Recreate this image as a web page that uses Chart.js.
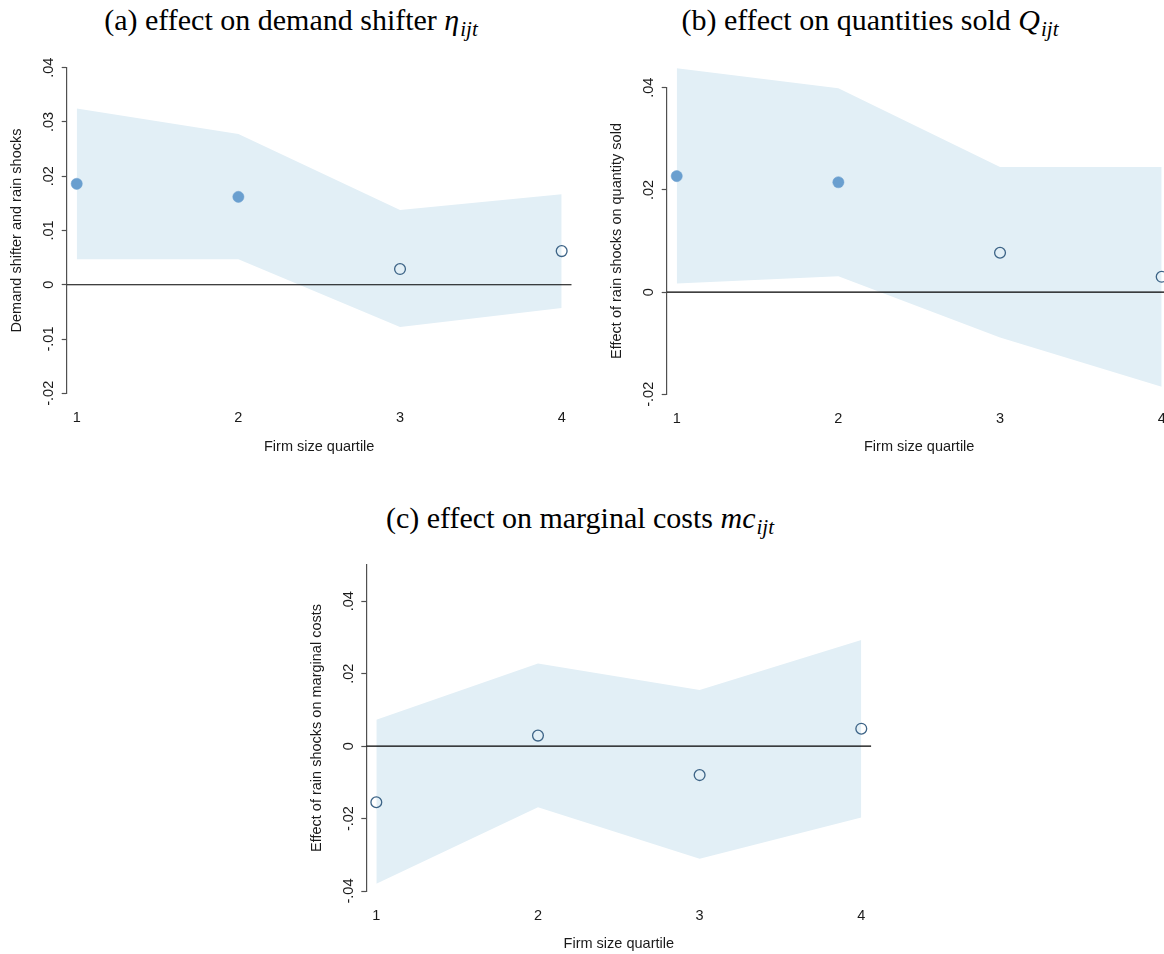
<!DOCTYPE html>
<html><head><meta charset="utf-8">
<script src="https://cdn.jsdelivr.net/npm/chart.js@4.4.0/dist/chart.umd.min.js"></script>
<style>
html,body{margin:0;padding:0;width:1164px;height:954px;overflow:hidden;background:#fff;}
canvas{position:absolute;}
.t{position:absolute;font-family:"Liberation Serif","Times New Roman",serif;font-size:30px;color:#000;white-space:nowrap;transform:translateX(-50%);line-height:1;}
.t i{font-style:italic;}
.t sub{font-size:70%;font-style:italic;vertical-align:-0.28em;line-height:0;margin-left:1px;}
</style></head><body>
<div class="t" style="left:291px;top:5px">(a) effect on demand shifter <i>η</i><sub>ijt</sub></div>
<div class="t" style="left:870px;top:5px">(b) effect on quantities sold <i>Q</i><sub>ijt</sub></div>
<div class="t" style="left:580px;top:503px">(c) effect on marginal costs <i>mc</i><sub>ijt</sub></div>
<canvas id="ca" width="580" height="460" style="left:0px;top:0px"></canvas>
<canvas id="cb" width="600" height="460" style="left:580px;top:0px"></canvas>
<canvas id="cc" width="580" height="474" style="left:300px;top:480px"></canvas>
<script>
// ---- data ----
const quartiles = [1, 2, 3, 4];
const xTickLabels = ['1', '2', '3', '4'];
const xTitle = 'Firm size quartile';

// (a) demand shifter
const demandCoef = [0.0186, 0.0162, 0.0029, 0.0062];
const demandLo   = [0.0047, 0.0047, -0.0078, -0.0043];
const demandHi   = [0.0325, 0.0278, 0.0138, 0.0167];
const demandTickVals = [-0.02, -0.01, 0, 0.01, 0.02, 0.03, 0.04];
const demandTickLabels = ['-.02', '-.01', '0', '.01', '.02', '.03', '.04'];
const demandYTitle = 'Demand shifter and rain shocks';

// (b) quantities sold
const qtyCoef = [0.0227, 0.0215, 0.0077, 0.0030];
const qtyLo   = [0.0017, 0.0031, -0.0089, -0.0185];
const qtyHi   = [0.0438, 0.0399, 0.0245, 0.0245];
const qtyTickVals = [-0.02, 0, 0.02, 0.04];
const qtyTickLabels = ['-.02', '0', '.02', '.04'];
const qtyYTitle = 'Effect of rain shocks on quantity sold';

// (c) marginal costs
const mcCoef = [-0.0155, 0.0029, -0.0080, 0.0048];
const mcLo   = [-0.0380, -0.0169, -0.0311, -0.0197];
const mcHi   = [0.0073, 0.0228, 0.0155, 0.0293];
const mcTickVals = [-0.04, -0.02, 0, 0.02, 0.04];
const mcTickLabels = ['-.04', '-.02', '0', '.02', '.04'];
const mcYTitle = 'Effect of rain shocks on marginal costs';

// axis ranges
const xRange = [0.938, 4.062];
const yRangeA = [-0.02, 0.04];
const yRangeB = [-0.02, 0.04];
const yRangeC = [-0.04, 0.05];

// ---- style ----
const BAND = 'rgb(226,239,246)';
const FILLED = '#6a9fcf';
const HOLLOW = '#3c6386';
const AXIS = '#505050';
const TXT = '#1a1a1a';
const SANS = '"Liberation Sans", Arial, Helvetica, sans-serif';

const unclipPlugin = {
  id: 'unclip',
  beforeDatasetsDraw(chart) {
    chart.$savedArea = chart.chartArea;
    chart.chartArea = {left: 0, top: 0, right: chart.width, bottom: chart.height, width: chart.width, height: chart.height};
  },
  afterDatasetsDraw(chart) {
    chart.chartArea = chart.$savedArea;
  }
};

function makePanel(id, coef, lo, hi, tickVals, tickLabels, yTitle, yRange, geo) {
  const sig = coef.map((c, i) => lo[i] > 0 || hi[i] < 0);
  const pts = (arr) => quartiles.map((q, i) => ({x: q, y: arr[i]}));
  new Chart(document.getElementById(id), {
    type: 'line',
    data: {
      datasets: [
        { // point estimates
          data: pts(coef), showLine: false,
          pointRadius: (c) => sig[c.dataIndex] ? 5.6 : 5.4,
          pointBackgroundColor: (c) => sig[c.dataIndex] ? FILLED : 'rgba(0,0,0,0)',
          pointBorderColor: (c) => sig[c.dataIndex] ? FILLED : HOLLOW,
          pointBorderWidth: (c) => sig[c.dataIndex] ? 0.5 : 1.3,
          clip: false
        },
        { // zero reference line
          data: [{x: xRange[0], y: 0}, {x: xRange[1], y: 0}],
          borderColor: '#000', borderWidth: 1.2, pointRadius: 0, fill: false
        },
        { // CI upper
          data: pts(hi), borderWidth: 0, pointRadius: 0, borderColor: 'rgba(0,0,0,0)',
          backgroundColor: BAND, fill: '+1', tension: 0, clip: false
        },
        { // CI lower
          data: pts(lo), borderWidth: 0, pointRadius: 0, borderColor: 'rgba(0,0,0,0)',
          backgroundColor: BAND, fill: false, tension: 0, clip: false
        }
      ]
    },
    options: {
      responsive: false, animation: false, devicePixelRatio: 1,
      events: [],
      layout: {padding: geo.pad, autoPadding: false},
      plugins: {legend: {display: false}, tooltip: {enabled: false}},
      scales: {
        x: {
          type: 'linear', min: xRange[0], max: xRange[1],
          afterBuildTicks: (s) => { s.ticks = quartiles.map(v => ({value: v})); },
          afterFit: (s) => { s.height = geo.xh; },
          border: {display: false},
          grid: {display: false},
          ticks: {
            autoSkip: false, maxRotation: 0, minRotation: 0, padding: 8,
            color: TXT, font: {family: SANS, size: 14.5},
            callback: (v, i) => xTickLabels[i]
          },
          title: {display: true, text: xTitle, color: TXT, padding: 0, font: {family: SANS, size: 14.5}}
        },
        y: {
          type: 'linear', min: yRange[0], max: yRange[1],
          afterBuildTicks: (s) => { s.ticks = tickVals.map(v => ({value: v})); },
          afterFit: (s) => { s.width = geo.yw; },
          border: {display: true, color: AXIS, width: 1.2},
          grid: {display: true, drawOnChartArea: false, drawTicks: true, tickLength: 5, tickColor: AXIS, tickWidth: 1.2},
          ticks: {
            autoSkip: false, minRotation: 90, maxRotation: 90, crossAlign: 'center', padding: 0,
            color: TXT, font: {family: SANS, size: 14.5},
            callback: (v, i) => tickLabels[i]
          },
          title: {display: true, text: yTitle, color: TXT, padding: 0, font: {family: SANS, size: 14.5}}
        }
      }
    },
    plugins: [unclipPlugin]
  });
}

makePanel('ca', demandCoef, demandLo, demandHi, demandTickVals, demandTickLabels, demandYTitle, yRangeA,
  {pad: {left: 8.3, top: 67.7, right: 8.3, bottom: 4.3}, yw: 58.4, xh: 62.4});
makePanel('cb', qtyCoef, qtyLo, qtyHi, qtyTickVals, qtyTickLabels, qtyYTitle, yRangeB,
  {pad: {left: 28.3, top: 87.7, right: 8.3, bottom: 4.3}, yw: 58.4, xh: 61.4});
makePanel('cc', mcCoef, mcLo, mcHi, mcTickVals, mcTickLabels, mcYTitle, yRangeC,
  {pad: {left: 8.3, top: 85, right: 8.7, bottom: 1}, yw: 58, xh: 62});
</script>
</body></html>
